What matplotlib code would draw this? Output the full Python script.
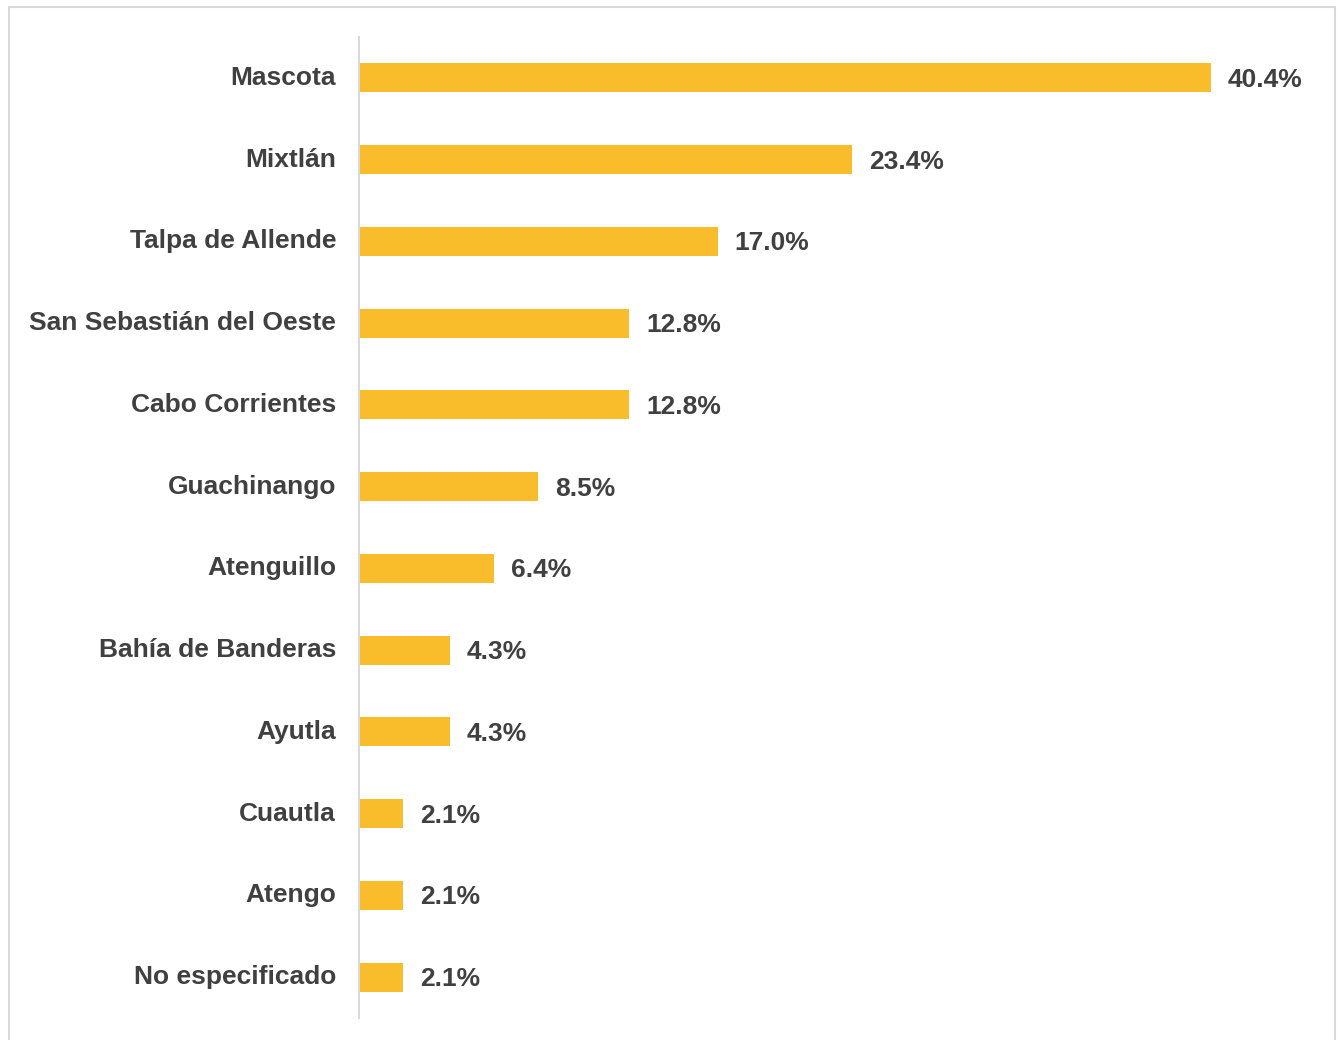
import matplotlib.pyplot as plt
from matplotlib.patches import Rectangle

municipios = ["Mascota", "Mixtlán", "Talpa de Allende", "San Sebastián del Oeste",
              "Cabo Corrientes", "Guachinango", "Atenguillo", "Bahía de Banderas",
              "Ayutla", "Cuautla", "Atengo", "No especificado"]
porcentajes = [40.4, 23.4, 17.0, 12.8, 12.8, 8.5, 6.4, 4.3, 4.3, 2.1, 2.1, 2.1]

plt.rcParams['font.family'] = ['Liberation Sans', 'DejaVu Sans']
W, H = 1338, 1040
fig = plt.figure(figsize=(W / 100, H / 100), dpi=100)

# marco gris del area del grafico
fig.patches.append(Rectangle((9 / W, -0.05), (1335 - 9) / W, (1040 - 7) / H + 0.05,
                             transform=fig.transFigure, fill=False,
                             edgecolor='#D9D9D9', linewidth=1.5))

ax = fig.add_axes([359 / W, 22 / H, (1310 - 359) / W, 981 / H])
y = range(len(municipios))
ax.barh(y, porcentajes, height=0.355, color='#F9BC2B')
ax.set_ylim(len(municipios) - 0.5, -0.5)
ax.set_xlim(0, (1310 - 359) / (852 / 40.4))

for i, v in enumerate(porcentajes):
    ax.annotate(f"{v:.1f}%", (v, i), xytext=(17, -2), textcoords='offset pixels',
                ha='left', va='center', fontsize=19, fontweight='bold', color='#404040')

ax.set_yticks(list(y))
ax.set_yticklabels(municipios, fontsize=19, fontweight='bold', color='#404040')
ax.tick_params(axis='y', length=0, pad=16.5)
for lbl in ax.get_yticklabels():
    lbl.set_verticalalignment('center')
ax.set_xticks([])
for s in ['top', 'right', 'bottom']:
    ax.spines[s].set_visible(False)
ax.spines['left'].set_color('#D9D9D9')
ax.spines['left'].set_linewidth(1.5)

fig.savefig('out.png', dpi=100)
